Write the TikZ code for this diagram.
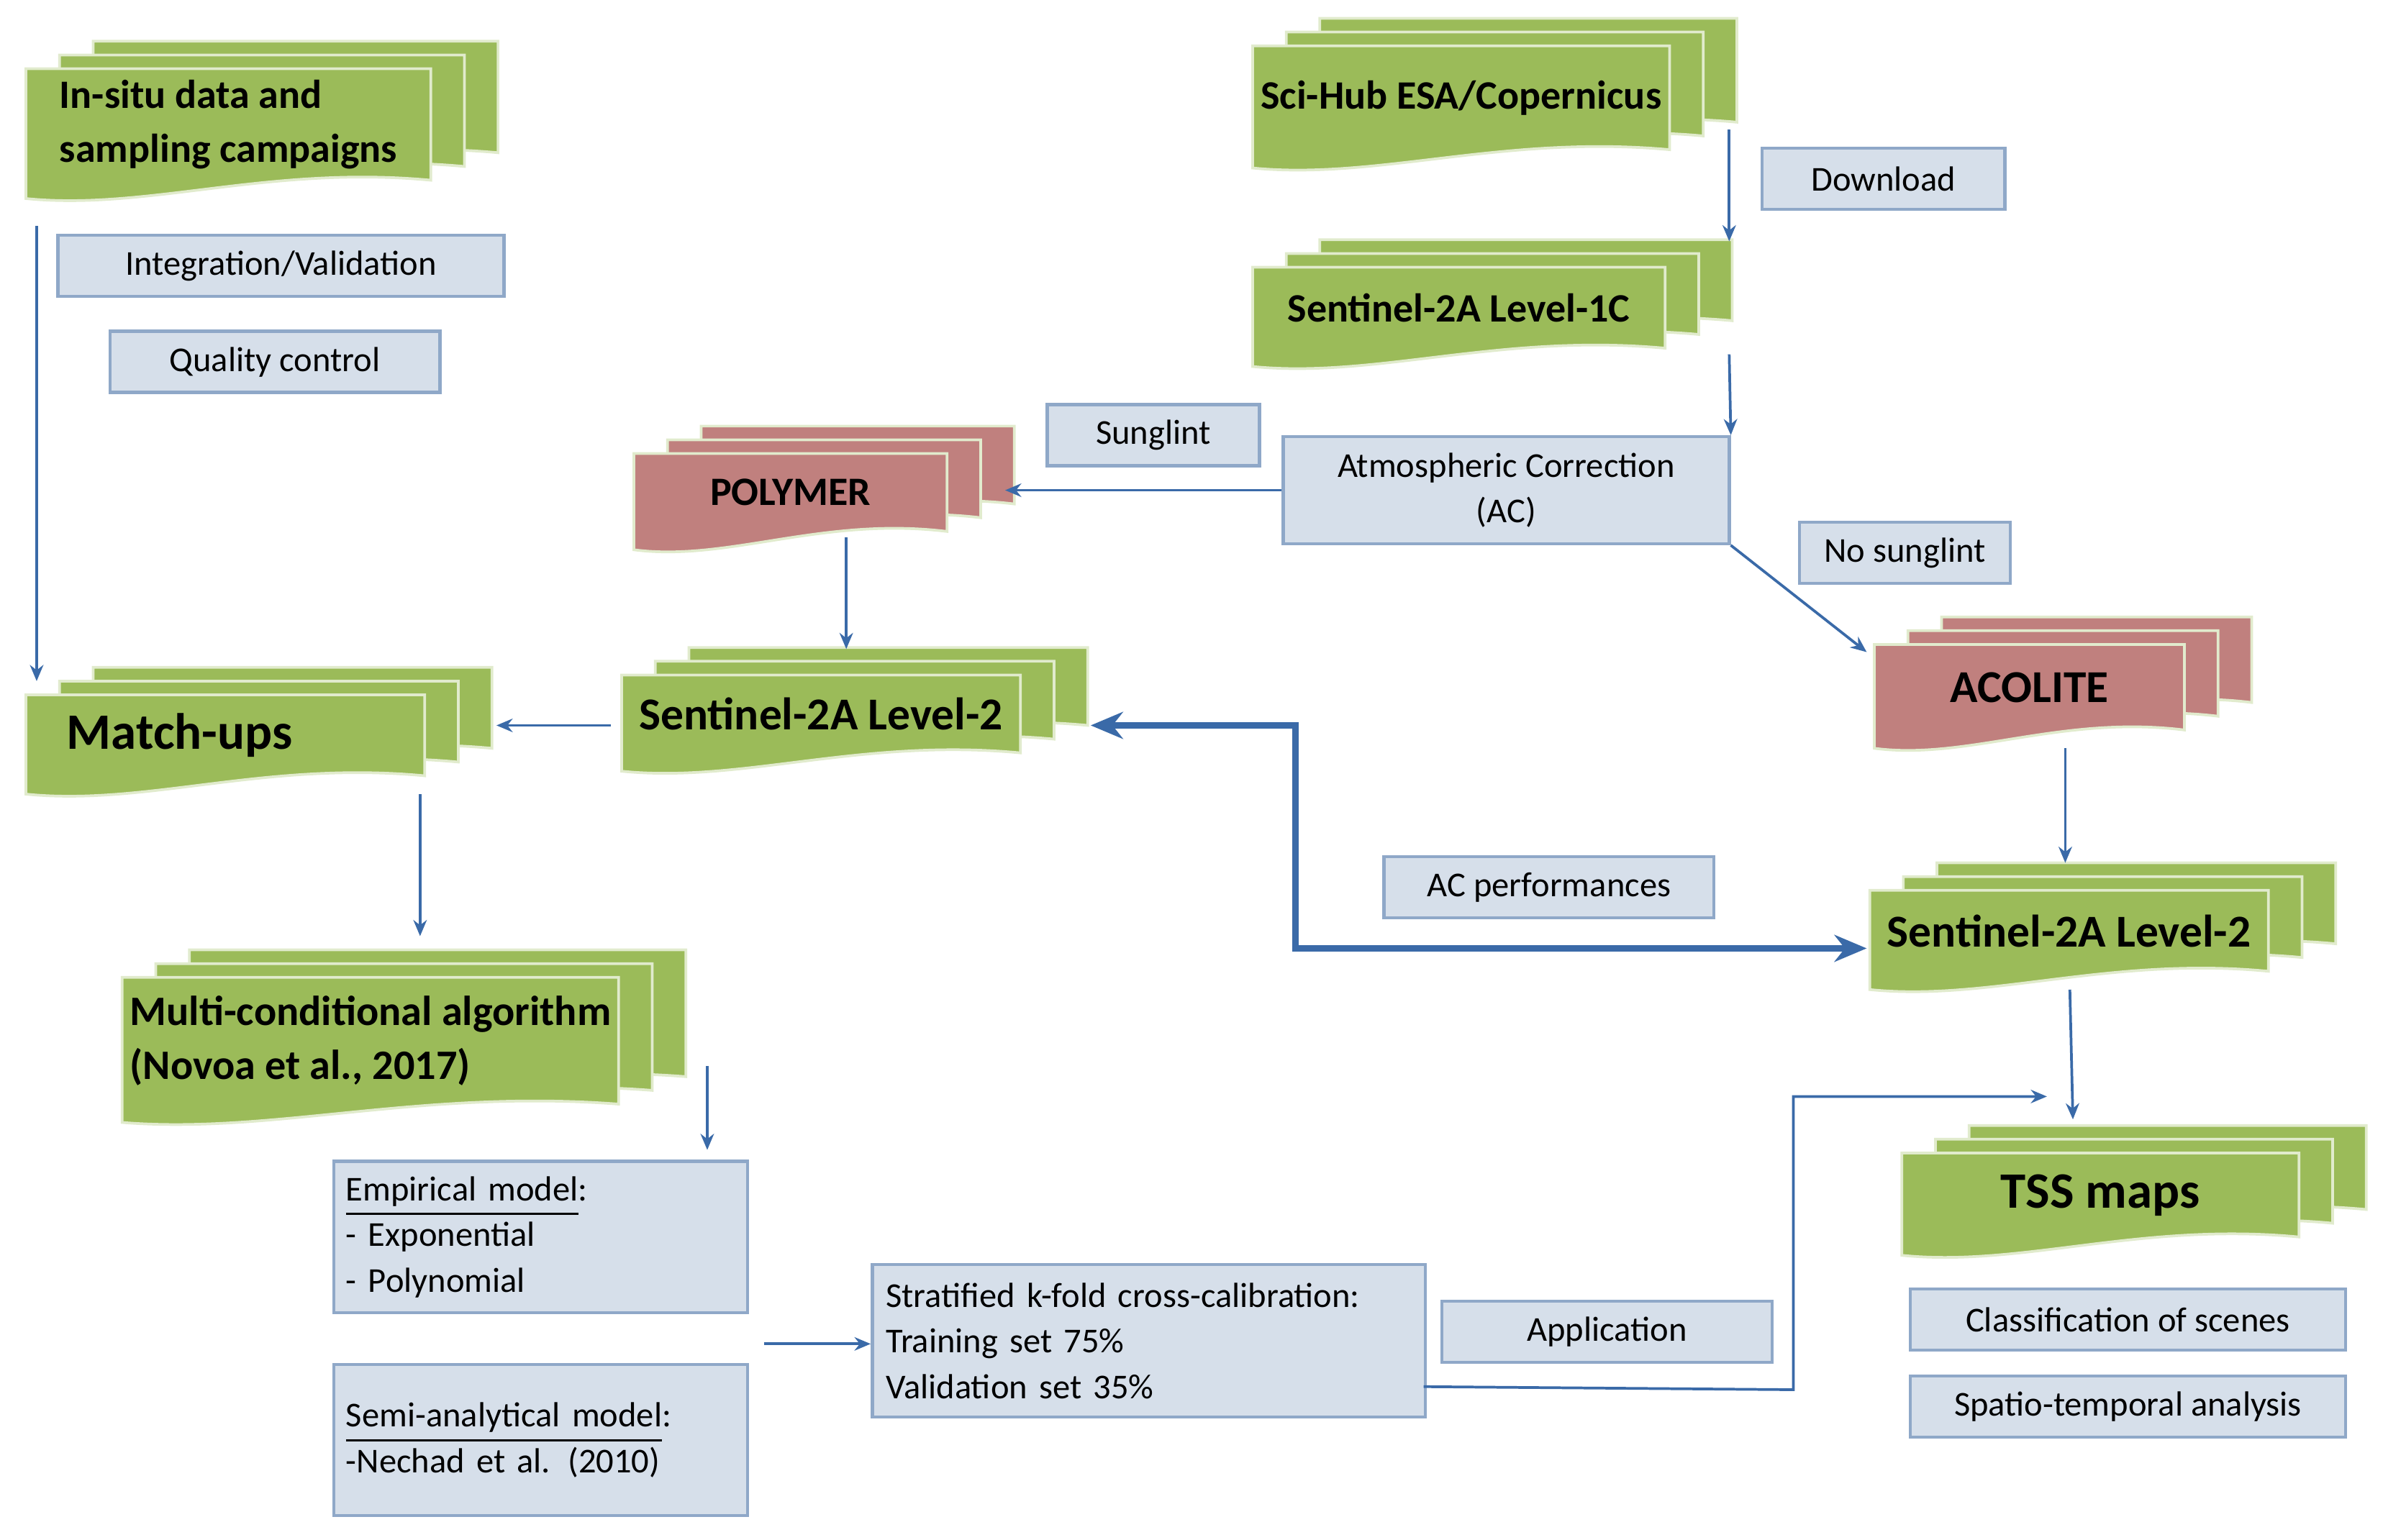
\documentclass[tikz,border=0pt]{standalone}
\usepackage{fontspec}
\setmainfont{Carlito}
\usetikzlibrary{arrows.meta}
\definecolor{docgreen}{HTML}{9BBB59}
\definecolor{docred}{HTML}{C0807E}
\definecolor{boxfill}{HTML}{D6DFEA}
\definecolor{boxline}{HTML}{8FA8C8}
\definecolor{flow}{HTML}{3A6AA8}
\tikzset{
	doc layer/.style = {draw=white!70!docgreen, line width=0.5pt},
	doc text/.style = {font=\bfseries, inner sep=0pt, align=left},
	info/.style = {draw=boxline, fill=boxfill, line width=0.6pt, font=\fontsize{6.5}{8.5}\selectfont, inner sep=0pt},
	flow/.style = {draw=flow, line width=0.5pt, -{Stealth[length=3pt,width=2.5pt]}},
}
% stack of three documents: name, x1, y1, x2, y2 (front layer), fill, font size, text
\newcommand{\docstack}[8]{%
	\foreach \o in {2,1,0}{
		\begin{scope}[shift={({#2+22*\o},{#3-9*\o})}]
			\path[doc layer, fill=#6] (0,0) -- ({#4-#2},0) -- ({#4-#2},{#5-#3-12})
			.. controls ({0.6*(#4-#2)},{#5-#3-22}) and ({0.3*(#4-#2)},{#5-#3+8}) .. (0,{#5-#3}) -- cycle;
		\end{scope}
	}
	\node[doc text, font=\bfseries\fontsize{#7}{10}\selectfont] (#1) at ({(#2+#4)/2},{(#3+#5)/2-6}) {#8};
}

\begin{document}
\begin{tikzpicture}[x=0.01cm, y=-0.01cm]
	\useasboundingbox (0,0) rectangle (1560,1008);
	
	%% document stacks
	\docstack{insitu}{17}{45}{282}{130}{docgreen}{7.5}{In-situ data and\\sampling campaigns}
	\docstack{scihub}{820}{30}{1093}{110}{docgreen}{7.5}{Sci-Hub ESA/Copernicus}
	\docstack{levelc}{820}{175}{1090}{240}{docgreen}{7.5}{Sentinel-2A Level-1C}
	\docstack{polymer}{415}{297}{620}{360}{docred}{7.5}{POLYMER}
	\docstack{acolite}{1227}{422}{1430}{490}{docred}{8.5}{ACOLITE}
	\docstack{matchups}{17}{455}{278}{520}{docgreen}{9.5}{\hspace*{-17pt}Match-ups}
	\docstack{levelmid}{407}{442}{668}{505}{docgreen}{8.5}{Sentinel-2A Level-2}
	\docstack{levelright}{1224}{583}{1485}{648}{docgreen}{8.5}{Sentinel-2A Level-2}
	\docstack{multi}{80}{640}{405}{735}{docgreen}{7.8}{Multi-conditional algorithm\\(Novoa et al., 2017)}
	\docstack{tss}{1245}{755}{1505}{822}{docgreen}{9.5}{TSS maps}
	
	%% label boxes
	\node[info, minimum width=159*0.01cm, minimum height=40*0.01cm] (download) at (1233,117) {Download};
	\node[info, minimum width=292*0.01cm, minimum height=40*0.01cm] (integration) at (184,174) {Integration/Validation};
	\node[info, minimum width=216*0.01cm, minimum height=40*0.01cm] (quality) at (180,237) {Quality control};
	\node[info, minimum width=139*0.01cm, minimum height=40*0.01cm] (sunglint) at (755,285) {Sunglint};
	\node[info, minimum width=292*0.01cm, minimum height=70*0.01cm, align=center] (ac) at (986,321) {Atmospheric Correction\\(AC)};
	\node[info, minimum width=138*0.01cm, minimum height=40*0.01cm] (nosunglint) at (1247,362) {No sunglint};
	\node[info, minimum width=216*0.01cm, minimum height=40*0.01cm] (acperf) at (1014,581) {AC performances};
	\node[info, minimum width=271*0.01cm, minimum height=99*0.01cm, text width=255*0.01cm, align=left] (empirical) at (354,810) {\underline{Empirical model}:\\- Exponential\\- Polynomial};
	\node[info, minimum width=271*0.01cm, minimum height=99*0.01cm, text width=255*0.01cm, align=left] (semi) at (354,943) {\underline{Semi-analytical model}:\\-Nechad et al. (2010)\\[14pt]};
	\node[info, minimum width=362*0.01cm, minimum height=100*0.01cm, text width=344*0.01cm, align=left] (kfold) at (752,878) {Stratified k-fold cross-calibration:\\Training set 75\%\\Validation set 35\%};
	\node[info, minimum width=216*0.01cm, minimum height=40*0.01cm] (application) at (1052,872) {Application};
	\node[info, minimum width=285*0.01cm, minimum height=40*0.01cm] (classif) at (1393,864) {Classification of scenes};
	\node[info, minimum width=285*0.01cm, minimum height=40*0.01cm] (spatio) at (1393,921) {Spatio-temporal analysis};
	
	%% free ends
	\coordinate (insitutop) at (24,148);
	\coordinate (matchin) at (24,446);
	\coordinate (multiout) at (463,698);
	\coordinate (empin) at (463,753);
	\coordinate (modelsout) at (500,880);
	\coordinate (tssin) at (1340,718);
	
	%% connectors
	\draw[flow] (insitutop) -- (matchin);
	\draw[flow] (1132,85) -- (1132,158);
	\draw[flow] (1132,232) -- (ac.north east);
	\draw[flow] (ac.west) -- (658,321);
	\draw[flow] (ac.south east) -- (1222,427);
	\draw[flow] (554,352) -- (554,425);
	\draw[flow] (400,475) -- (325,475);
	\draw[flow] (275,520) -- (275,613);
	\draw[flow] (multiout) -- (empin);
	\draw[flow, line width=1.3pt, {Stealth[length=6pt,width=5pt]}-{Stealth[length=6pt,width=5pt]}] (714,475) -- (848,475) -- (848,621) -- (1222,621);
	\draw[flow] (1352,490) -- (1352,565);
	\draw[flow] (1355,648) -- (1357,733);
	\draw[flow] (modelsout) -- (kfold.west |- modelsout);
	\draw[flow] (932,908) -- (1174,910) -- (1174,718) -- (tssin);
\end{tikzpicture}
\end{document}
